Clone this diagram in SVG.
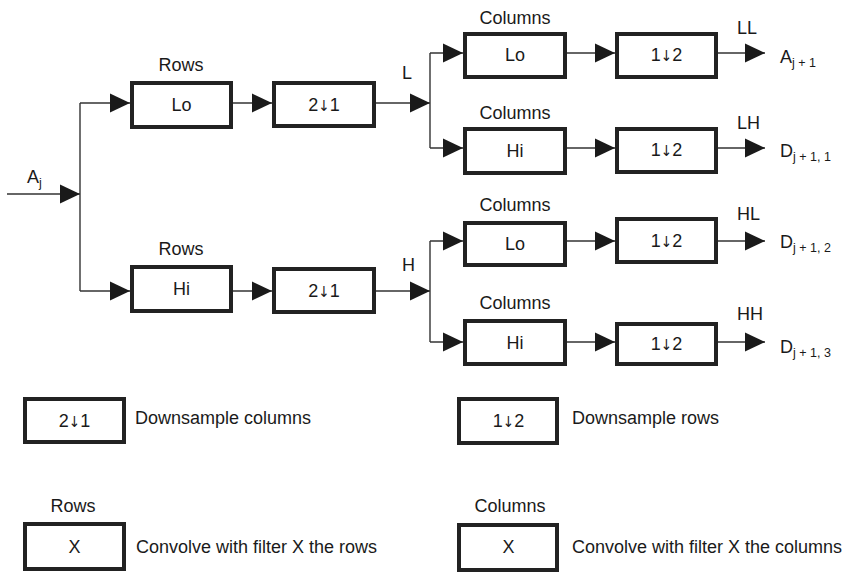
<svg xmlns="http://www.w3.org/2000/svg" width="853" height="573" viewBox="0 0 853 573">
<style>
text{font-family:"Liberation Sans",Arial,sans-serif;font-size:18px;fill:#1a1a1a}
.c{text-anchor:middle}
.sub{font-size:12.5px}
.dn{font-family:"DejaVu Sans Condensed","DejaVu Sans",sans-serif;font-size:15px}
.box{fill:#fff;stroke:#222;stroke-width:4}
.ln{fill:none;stroke:#333;stroke-width:1.4}
.ar{fill:none;stroke:#333;stroke-width:1.4;marker-end:url(#ah)}
</style>
<defs>
<marker id="ah" markerUnits="userSpaceOnUse" markerWidth="20" markerHeight="20" refX="20" refY="9.5" orient="auto" viewBox="0 0 20 19">
<path d="M0,0 L20,9.5 L0,19 z" fill="#1a1a1a"/>
</marker>
</defs>
<rect width="853" height="573" fill="#fff"/>
<g id="connectors">
<path class="ar" d="M7,194 H80"/>
<path class="ln" d="M80,103 V291"/>
<path class="ar" d="M80,103 H130"/>
<path class="ar" d="M80,291 H130"/>
<path class="ar" d="M233,103 H272"/>
<path class="ar" d="M233,291 H272"/>
<path class="ar" d="M376,103 H430"/>
<path class="ar" d="M376,291 H430"/>
<path class="ln" d="M430,53 V148"/>
<path class="ln" d="M430,241 V342"/>
<path class="ar" d="M430,53 H463"/>
<path class="ar" d="M430,148 H463"/>
<path class="ar" d="M430,241 H463"/>
<path class="ar" d="M430,342 H463"/>
<path class="ar" d="M567,53 H615"/>
<path class="ar" d="M567,148 H615"/>
<path class="ar" d="M567,241 H615"/>
<path class="ar" d="M567,342 H615"/>
<path class="ar" d="M718,53 H765"/>
<path class="ar" d="M718,148 H765"/>
<path class="ar" d="M718,241 H765"/>
<path class="ar" d="M718,342 H765"/>
</g>
<g id="input-label"><text x="27" y="183">A<tspan class="sub" dy="4">j</tspan></text></g>
<g id="rows-lo">
<text class="c" x="181" y="71">Rows</text>
<rect class="box" x="132" y="83" width="99" height="44"/>
<text class="c" x="181.5" y="111">Lo</text>
</g>
<g id="rows-hi">
<text class="c" x="181" y="255">Rows</text>
<rect class="box" x="132" y="267" width="99" height="44"/>
<text class="c" x="181.5" y="295">Hi</text>
</g>
<g id="down-top">
<rect class="box" x="274" y="83" width="100" height="43"/>
<text class="c" x="324" y="111">2<tspan class="dn">↓</tspan>1</text>
</g>
<g id="down-bottom">
<rect class="box" x="274" y="269" width="100" height="43"/>
<text class="c" x="324" y="297">2<tspan class="dn">↓</tspan>1</text>
</g>
<g id="label-L"><text x="402" y="79">L</text></g>
<g id="label-H"><text x="402" y="271">H</text></g>
<g id="col-lo-1">
<text class="c" x="515" y="24">Columns</text>
<rect class="box" x="465" y="34" width="100" height="43"/>
<text class="c" x="515" y="61">Lo</text>
</g>
<g id="col-hi-1">
<text class="c" x="515" y="119">Columns</text>
<rect class="box" x="465" y="129" width="100" height="44"/>
<text class="c" x="515" y="157">Hi</text>
</g>
<g id="col-lo-2">
<text class="c" x="515" y="211">Columns</text>
<rect class="box" x="465" y="223" width="100" height="42"/>
<text class="c" x="515" y="250">Lo</text>
</g>
<g id="col-hi-2">
<text class="c" x="515" y="309">Columns</text>
<rect class="box" x="465" y="321" width="100" height="43"/>
<text class="c" x="515" y="349">Hi</text>
</g>
<g id="ds-1">
<rect class="box" x="617" y="34" width="99" height="43"/>
<text class="c" x="666.5" y="61">1<tspan class="dn">↓</tspan>2</text>
</g>
<g id="ds-2">
<rect class="box" x="617" y="129" width="99" height="43"/>
<text class="c" x="666.5" y="156">1<tspan class="dn">↓</tspan>2</text>
</g>
<g id="ds-3">
<rect class="box" x="617" y="219" width="99" height="43"/>
<text class="c" x="666.5" y="247">1<tspan class="dn">↓</tspan>2</text>
</g>
<g id="ds-4">
<rect class="box" x="617" y="324" width="99" height="40"/>
<text class="c" x="666.5" y="350">1<tspan class="dn">↓</tspan>2</text>
</g>
<g id="out-LL">
<text x="737" y="34">LL</text>
<text x="780" y="63">A<tspan class="sub" dy="4">j + 1</tspan></text>
</g>
<g id="out-LH">
<text x="737" y="129">LH</text>
<text x="780" y="157">D<tspan class="sub" dy="4">j + 1, 1</tspan></text>
</g>
<g id="out-HL">
<text x="737" y="220">HL</text>
<text x="780" y="248">D<tspan class="sub" dy="4">j + 1, 2</tspan></text>
</g>
<g id="out-HH">
<text x="737" y="320">HH</text>
<text x="780" y="353">D<tspan class="sub" dy="4">j + 1, 3</tspan></text>
</g>
<g id="legend-ds-cols">
<rect class="box" x="25" y="399" width="99" height="43"/>
<text class="c" x="74.5" y="427">2<tspan class="dn">↓</tspan>1</text>
<text x="135" y="424">Downsample columns</text>
</g>
<g id="legend-ds-rows">
<rect class="box" x="459" y="399" width="98" height="44"/>
<text class="c" x="508.5" y="427">1<tspan class="dn">↓</tspan>2</text>
<text x="572" y="424">Downsample rows</text>
</g>
<g id="legend-conv-rows">
<text class="c" x="73" y="512">Rows</text>
<rect class="box" x="25" y="524" width="99" height="45"/>
<text class="c" x="74.5" y="553">X</text>
<text x="136" y="553">Convolve with filter X the rows</text>
</g>
<g id="legend-conv-cols">
<text class="c" x="510" y="512">Columns</text>
<rect class="box" x="459" y="525" width="98" height="45"/>
<text class="c" x="508.5" y="553">X</text>
<text x="572" y="553">Convolve with filter X the columns</text>
</g>
</svg>
